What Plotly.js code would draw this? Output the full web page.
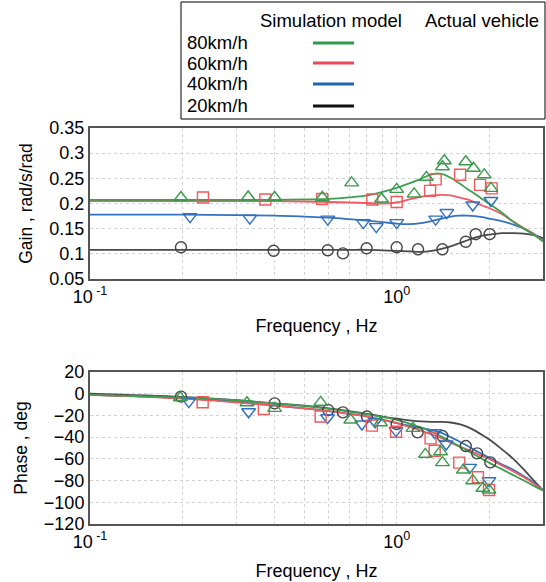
<!DOCTYPE html>
<html>
<head>
<meta charset="utf-8">
<script src="https://cdn.plot.ly/plotly-3.0.1.min.js"></script>
<style>html,body{margin:0;padding:0;background:#fff;}#chart{width:546px;height:582px;}</style>
</head>
<body>
<div id="chart"></div>
<script>
// ---- data ----
var speeds = ['80km/h', '60km/h', '40km/h', '20km/h'];
var simFreq = [0.1,0.2,0.3,0.4,0.5,0.6,0.7,0.8,0.9,1.0,1.1,1.2,1.3,1.4,1.5,1.6,1.7,1.8,1.9,2.0,2.2,2.4,2.6,2.8,3.0];
var simGain80 = [0.207,0.207,0.207,0.207,0.208,0.209,0.212,0.216,0.223,0.231,0.240,0.249,0.258,0.259,0.251,0.240,0.229,0.219,0.209,0.200,0.182,0.164,0.150,0.138,0.125];
var simGain60 = [0.205,0.205,0.205,0.205,0.204,0.203,0.202,0.201,0.200,0.202,0.208,0.213,0.216,0.217,0.216,0.212,0.208,0.202,0.196,0.191,0.179,0.164,0.151,0.139,0.125];
var simGain40 = [0.178,0.178,0.177,0.176,0.174,0.172,0.169,0.166,0.163,0.160,0.159,0.161,0.165,0.170,0.174,0.176,0.176,0.175,0.173,0.170,0.165,0.158,0.150,0.140,0.126];
var simGain20 = [0.108,0.108,0.108,0.108,0.108,0.108,0.108,0.108,0.107,0.106,0.105,0.104,0.106,0.110,0.115,0.121,0.127,0.132,0.136,0.138,0.141,0.141,0.140,0.137,0.131];
var simPhase80 = [-1,-3.5,-6,-9,-11.5,-14,-16.5,-19,-21.5,-24,-27.5,-31,-35,-39.5,-44,-48.5,-52.5,-56.5,-60,-63.5,-69.5,-75,-80,-85,-89];
var simPhase60 = [-1,-4.5,-8,-11,-13.5,-16,-18.5,-21,-24,-27,-30.5,-34,-37.5,-41,-45,-48.5,-51.5,-54.5,-57.5,-60,-66,-71.5,-77,-83,-89];
var simPhase40 = [-1,-4,-7.5,-11,-13.5,-16,-18.5,-21,-24,-27,-29.5,-31.5,-33.5,-36,-40,-44,-48,-52,-55.5,-59,-65,-70,-76,-82,-89];
var simPhase20 = [0,-3,-6,-9,-11,-13.5,-16,-18.5,-21,-23,-24.5,-25.5,-26,-26,-26.5,-28,-30.5,-34,-38,-42,-51,-60,-70,-80,-89];

var actGainFreq80 = [0.198,0.328,0.40,0.572,0.713,0.893,1.0,1.14,1.25,1.41,1.43,1.68,1.78,1.93,2.03];
var actGain80 = [0.212,0.213,0.212,0.212,0.241,0.209,0.228,0.219,0.252,0.273,0.285,0.283,0.270,0.257,0.230];
var actGainFreq60 = [0.2335,0.373,0.572,0.833,1.0,1.285,1.34,1.61,1.87,2.04];
var actGain60 = [0.212,0.208,0.209,0.208,0.203,0.225,0.248,0.257,0.237,0.230];
var actGainFreq40 = [0.212,0.332,0.596,0.778,0.858,1.0,1.34,1.457,1.77,2.03];
var actGain40 = [0.174,0.171,0.169,0.162,0.154,0.162,0.169,0.182,0.197,0.206];
var actGainFreq20 = [0.198,0.397,0.596,0.668,0.798,1.0,1.174,1.41,1.68,1.81,2.01];
var actGain20 = [0.113,0.106,0.107,0.101,0.111,0.113,0.109,0.109,0.124,0.139,0.139];

var actPhaseFreq80 = [0.197,0.325,0.40,0.565,0.708,0.886,1.13,1.24,1.39,1.41,1.65,1.77,1.91,2.0];
var actPhase80 = [-3.7,-8.3,-13.5,-7.9,-24.2,-26.7,-31.9,-55.8,-53.4,-63.5,-70.3,-80.1,-87.1,-88.7];
var actPhaseFreq60 = [0.233,0.369,0.565,0.83,0.995,1.29,1.33,1.60,1.84,2.0];
var actPhase60 = [-7.9,-14.1,-21,-29.4,-35,-41.1,-52.5,-63.5,-77,-88.7];
var actPhaseFreq40 = [0.21,0.329,0.595,0.77,0.85,0.995,1.33,1.45,1.73,2.0];
var actPhase40 = [-7.3,-16.6,-22.1,-27.9,-25.8,-34,-35.9,-46.3,-67.8,-80.1];
var actPhaseFreq20 = [0.198,0.40,0.598,0.668,0.80,1.0,1.17,1.41,1.68,1.83,2.02];
var actPhase20 = [-2.7,-8.9,-15,-17.2,-21,-27.9,-35.6,-39,-48.2,-54.9,-63.2];

var xTickVals = [0.1, 1];
var xTickText = ['10<sup> -1</sup>', '10<sup>0</sup>'];
var xMinorVals = [0.2,0.3,0.4,0.5,0.6,0.7,0.8,0.9,2,3];
var gainTickVals = [0.05,0.1,0.15,0.2,0.25,0.3,0.35];
var gainTickText = ['0.05','0.1','0.15','0.2','0.25','0.3','0.35'];
var phaseTickVals = [-120,-100,-80,-60,-40,-20,0,20];

// ---- styles ----
var lineColors = ['#3d9f52', '#ef5a63', '#3373bd', '#4a4a4a'];
var legendColors = ['#2f9a48', '#e8485a', '#1f65b0', '#111111'];
var markColors = ['#3b9a4e', '#ee5a5a', '#2f6fc0', '#444444'];
var symbols = ['triangle-up-open', 'square-open', 'triangle-down-open', 'circle-open'];

var simGain = [simGain80, simGain60, simGain40, simGain20];
var simPhase = [simPhase80, simPhase60, simPhase40, simPhase20];
var actGF = [actGainFreq80, actGainFreq60, actGainFreq40, actGainFreq20];
var actG = [actGain80, actGain60, actGain40, actGain20];
var actPF = [actPhaseFreq80, actPhaseFreq60, actPhaseFreq40, actPhaseFreq20];
var actP = [actPhase80, actPhase60, actPhase40, actPhase20];

var traces = [];
for (var i = 3; i >= 0; i--) {
  traces.push({x: simFreq, y: simGain[i], xaxis: 'x', yaxis: 'y', mode: 'lines',
    line: {color: lineColors[i], width: 1.8, shape: 'spline'}, showlegend: false, name: speeds[i]});
  traces.push({x: simFreq, y: simPhase[i], xaxis: 'x2', yaxis: 'y2', mode: 'lines',
    line: {color: lineColors[i], width: 1.8, shape: 'spline'}, showlegend: false, name: speeds[i]});
}
for (var j = 3; j >= 0; j--) {
  var msize = (j === 1 || j === 3) ? 11 : 12;
  traces.push({x: actGF[j], y: actG[j], xaxis: 'x', yaxis: 'y', mode: 'markers',
    marker: {symbol: symbols[j], size: msize, color: markColors[j], line: {width: 1.4, color: markColors[j]}}, showlegend: false});
  traces.push({x: actPF[j], y: actP[j], xaxis: 'x2', yaxis: 'y2', mode: 'markers',
    marker: {symbol: symbols[j], size: msize, color: markColors[j], line: {width: 1.4, color: markColors[j]}}, showlegend: false});
}

var FONT = 'Liberation Sans, Arial, sans-serif';
var gridCol = '#d2d2d2';
function xAxis(anchor) {
  return {
    type: 'log', range: [-1, Math.log10(3)], anchor: anchor,
    tickmode: 'array', tickvals: xTickVals, ticktext: xTickText,
    showgrid: true, gridcolor: gridCol, griddash: 'dot', gridwidth: 1,
    minor: {tickmode: 'array', tickvals: xMinorVals, showgrid: true, gridcolor: gridCol, griddash: 'dot', gridwidth: 1, ticks: ''},
    showline: true, mirror: true, linecolor: '#555555', linewidth: 2,
    ticks: '', zeroline: false,
    tickfont: {family: FONT, size: 18, color: '#000'},
    title: {text: 'Frequency , Hz', font: {family: FONT, size: 18, color: '#000'}, standoff: 14}
  };
}
function yAxisBase() {
  return {
    showgrid: true, gridcolor: gridCol, griddash: 'dot', gridwidth: 1,
    showline: true, mirror: true, linecolor: '#555555', linewidth: 2,
    ticks: '', zeroline: false,
    tickfont: {family: FONT, size: 18, color: '#000'}
  };
}
var y1 = yAxisBase();
y1.domain = [0.6187, 1]; y1.range = [0.05, 0.35]; y1.anchor = 'x';
y1.tickmode = 'array'; y1.tickvals = gainTickVals; y1.ticktext = gainTickText;
y1.title = {text: 'Gain , rad/s/rad', font: {family: FONT, size: 17.5, color: '#000'}, standoff: 12};
var y2 = yAxisBase();
y2.domain = [0, 0.3838]; y2.range = [-120, 20]; y2.anchor = 'x2';
y2.tickmode = 'array'; y2.tickvals = phaseTickVals;
y2.title = {text: 'Phase , deg', font: {family: FONT, size: 17.5, color: '#000'}, standoff: 12};

// legend (drawn in paper coordinates)
function px2x(p) { return (p - 90) / 453; }
function px2y(p) { return (524 - p) / 396; }
var shapes = [{type: 'rect', xref: 'paper', yref: 'paper', x0: px2x(181), x1: px2x(545), y0: px2y(119), y1: px2y(2),
  line: {color: '#000', width: 1}, fillcolor: 'rgba(0,0,0,0)'}];
var annotations = [
  {text: 'Simulation model', x: px2x(258), y: px2y(20)},
  {text: 'Actual vehicle', x: px2x(423), y: px2y(20)}
];
var rowY = [43, 63, 84, 106];
for (var k = 0; k < 4; k++) {
  annotations.push({text: speeds[k], x: px2x(185), y: px2y(rowY[k])});
  shapes.push({type: 'line', xref: 'paper', yref: 'paper', x0: px2x(313), x1: px2x(354), y0: px2y(rowY[k]), y1: px2y(rowY[k]),
    line: {color: legendColors[k], width: 3}});
}
annotations.forEach(function (a) {
  a.xref = 'paper'; a.yref = 'paper'; a.xanchor = 'left'; a.yanchor = 'middle'; a.showarrow = false;
  a.font = {family: FONT, size: 18.5, color: '#000'};
});

var layout = {
  width: 546, height: 582,
  margin: {l: 90, r: 3, t: 128, b: 58},
  paper_bgcolor: '#fff', plot_bgcolor: '#fff',
  showlegend: false,
  xaxis: xAxis('y'), yaxis: y1,
  xaxis2: xAxis('y2'), yaxis2: y2,
  shapes: shapes, annotations: annotations
};
Plotly.newPlot('chart', traces, layout, {displayModeBar: false, staticPlot: true});
</script>
</body>
</html>
